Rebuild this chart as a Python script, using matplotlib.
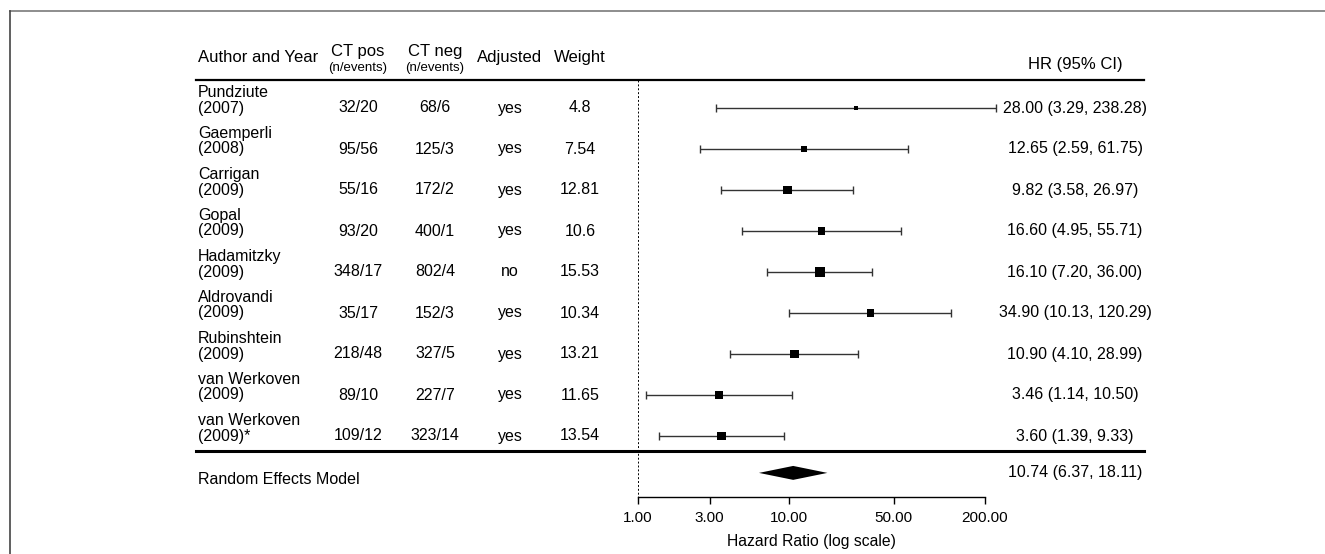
import matplotlib
matplotlib.use("Agg")
import matplotlib.pyplot as plt
import matplotlib.transforms as mtransforms
from matplotlib.lines import Line2D

plt.rcParams["font.family"] = ["Liberation Sans", "DejaVu Sans"]

# study data
authors = ["Pundziute", "Gaemperli", "Carrigan", "Gopal", "Hadamitzky",
           "Aldrovandi", "Rubinshtein", "van Werkoven", "van Werkoven"]
years = ["(2007)", "(2008)", "(2009)", "(2009)", "(2009)",
         "(2009)", "(2009)", "(2009)", "(2009)*"]
ct_pos = ["32/20", "95/56", "55/16", "93/20", "348/17", "35/17", "218/48", "89/10", "109/12"]
ct_neg = ["68/6", "125/3", "172/2", "400/1", "802/4", "152/3", "327/5", "227/7", "323/14"]
adjusted = ["yes", "yes", "yes", "yes", "no", "yes", "yes", "yes", "yes"]
weights = [4.8, 7.54, 12.81, 10.6, 15.53, 10.34, 13.21, 11.65, 13.54]
hr = [28.00, 12.65, 9.82, 16.60, 16.10, 34.90, 10.90, 3.46, 3.60]
lo = [3.29, 2.59, 3.58, 4.95, 7.20, 10.13, 4.10, 1.14, 1.39]
hi = [238.28, 61.75, 26.97, 55.71, 36.00, 120.29, 28.99, 10.50, 9.33]

summary_label = "Random Effects Model"
summary = (10.74, 6.37, 18.11)

xticks = [1, 3, 10, 50, 200]

W, H = 1325, 554
fig = plt.figure(figsize=(W / 100, H / 100), dpi=100)
ax = fig.add_axes([0, 0, 1, 1])

# x: log scale, 1 -> px 637.7, 150.8 px per decade ; y: one unit per study row
x0, dec = 637.7, 150.8
ax.set_xscale("log")
ax.set_xlim(10 ** (-x0 / dec), 10 ** ((W - x0) / dec))
y0, dy = 108, 41
ax.set_ylim((H - y0) / dy, -y0 / dy)

rows = list(range(len(authors)))
y_head_line = -0.68
y_thick = 8.37
y_summary = 8.9
y_axis = 9.49

# text columns use figure-fraction x, data y
tr = mtransforms.blended_transform_factory(fig.transFigure, ax.transData)
def fx(px):
    return px / W

col_author, col_pos, col_neg, col_adj, col_wt, col_hr = 198, 358, 435, 510, 580, 1075
fs = 11.5

# header
ax.text(fx(col_author), -1.24, "Author and Year", transform=tr, ha="left", va="center", fontsize=12)
ax.text(fx(col_pos), -1.37, "CT pos", transform=tr, ha="center", va="center", fontsize=12)
ax.text(fx(col_pos), -0.97, "(n/events)", transform=tr, ha="center", va="center", fontsize=9.5)
ax.text(fx(col_neg), -1.37, "CT neg", transform=tr, ha="center", va="center", fontsize=12)
ax.text(fx(col_neg), -0.97, "(n/events)", transform=tr, ha="center", va="center", fontsize=9.5)
ax.text(fx(col_adj), -1.24, "Adjusted", transform=tr, ha="center", va="center", fontsize=12)
ax.text(fx(col_wt), -1.24, "Weight", transform=tr, ha="center", va="center", fontsize=12)
ax.text(fx(col_hr), -1.05, "HR (95% CI)", transform=tr, ha="center", va="center", fontsize=12)

# rows of the table
for i in rows:
    ax.text(fx(col_author), i - 0.39, authors[i], transform=tr, ha="left", va="center", fontsize=fs)
    ax.text(fx(col_author), i, years[i], transform=tr, ha="left", va="center", fontsize=fs)
    ax.text(fx(col_pos), i, ct_pos[i], transform=tr, ha="center", va="center", fontsize=fs)
    ax.text(fx(col_neg), i, ct_neg[i], transform=tr, ha="center", va="center", fontsize=fs)
    ax.text(fx(col_adj), i, adjusted[i], transform=tr, ha="center", va="center", fontsize=fs)
    ax.text(fx(col_wt), i, str(weights[i]), transform=tr, ha="center", va="center", fontsize=fs)
    ax.text(fx(col_hr), i, f"{hr[i]:.2f} ({lo[i]:.2f}, {hi[i]:.2f})", transform=tr,
            ha="center", va="center", fontsize=fs)

# summary row text
ax.text(fx(col_author), y_summary + 0.15, summary_label, transform=tr, ha="left", va="center", fontsize=fs)
ax.text(fx(col_hr), y_summary, f"{summary[0]:.2f} ({summary[1]:.2f}, {summary[2]:.2f})",
        transform=tr, ha="center", va="center", fontsize=fs)

# horizontal rules
ax.plot([fx(196), fx(1144)], [y_head_line, y_head_line], transform=tr, color="black", lw=1.6)
ax.plot([fx(196), fx(1144)], [y_thick, y_thick], transform=tr, color="black", lw=2.2)

# reference line at HR = 1
ax.plot([1, 1], [y_head_line, y_axis], color="black", lw=0.7, ls=(0, (2, 2)))

# confidence intervals and squares
err = [[h - l for h, l in zip(hr, lo)], [u - h for h, u in zip(hr, hi)]]
ax.errorbar(hr, rows, xerr=err, fmt="none", ecolor="#333333", elinewidth=1.0,
            capsize=3, capthick=1.0)
sizes = [((0.55 * w + 1.5) * 0.72) ** 2 for w in weights]
ax.scatter(hr, rows, s=sizes, marker="s", color="black", zorder=3, linewidths=0)

# pooled diamond
h_d = 0.17
ax.fill([summary[1], summary[0], summary[2], summary[0]],
        [y_summary, y_summary - h_d, y_summary, y_summary + h_d], color="black", lw=0)

# x axis on its own spine
for s in ["top", "right", "left"]:
    ax.spines[s].set_visible(False)
ax.spines["bottom"].set_position(("data", y_axis))
ax.spines["bottom"].set_bounds(1, 200)
ax.spines["bottom"].set_linewidth(1.0)
ax.set_xticks(xticks)
ax.set_xticklabels([f"{t:.2f}" for t in xticks], fontsize=11)
ax.xaxis.set_minor_locator(matplotlib.ticker.NullLocator())
ax.tick_params(axis="x", direction="out", length=5, width=1.0, pad=5)
ax.set_yticks([])
ax.text(14.14, 10.57, "Hazard Ratio (log scale)", ha="center", va="center", fontsize=11.3)

# image frame (top and left edges)
fig.add_artist(Line2D([10 / W, 1], [1 - 10.5 / H, 1 - 10.5 / H], color="#7a7a7a", lw=1.2))
fig.add_artist(Line2D([10 / W, 10 / W], [0, 1 - 10.5 / H], color="#444444", lw=1.2))

fig.savefig("out.png", dpi=100)
